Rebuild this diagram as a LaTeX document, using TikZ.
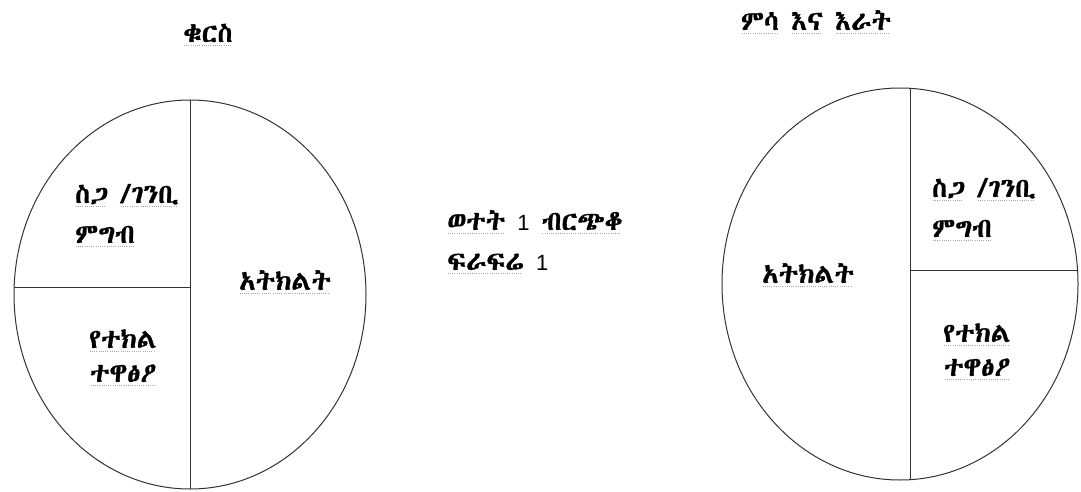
\documentclass[tikz,border=0pt]{standalone}
\usepackage{fontspec}
\newfontfamily\eth[FakeBold=1]{Abyssinica SIL}
\newfontfamily\digitfont{Liberation Sans}
\newcommand\sq[1]{\setbox0\hbox{#1}\rlap{\raisebox{-4pt}{\color{gray!70}\hbox to \wd0{\leaders\hbox to 2.2pt{\hss\vrule width 1pt height 1pt\hss}\hfill}}}\box0\relax}
\newcommand\one{{\digitfont\fontsize{22}{40}\selectfont 1}}
\begin{document}
\begin{tikzpicture}[x=1pt,y=-1pt,
  lbl/.style={font=\eth\fontsize{27}{40}\selectfont, inner sep=0pt},
  tight/.style={font=\eth\fontsize{27}{34}\selectfont},
  edge/.style={draw=black!80, line width=1pt}]
\useasboundingbox (0,0) rectangle (1081,492);
% left pie
\coordinate (LC) at (190,294.5);
\draw[edge] (LC) ellipse [x radius=176pt, y radius=194.5pt];
\begin{scope}
\clip (LC) ellipse [x radius=176pt, y radius=194.5pt];
\draw[edge] (190,0) -- (190,492);
\draw[edge] (0,287) -- (190,287);
\end{scope}
% right pie
\coordinate (RC) at (900,284);
\draw[edge] (RC) ellipse [x radius=178pt, y radius=196pt];
\begin{scope}
\clip (RC) ellipse [x radius=178pt, y radius=196pt];
\draw[edge] (910,0) -- (910,492);
\draw[edge] (910,270) -- (1081,270);
\end{scope}
% titles
\node[lbl, anchor=base] (t1) at (208,42) {\sq{ቁርስ}};
\node[lbl, anchor=base] (t2) at (816,30) {\sq{ምሳ} \sq{እና} \sq{እራት}};
% left labels (base = baseline of last line)
\node[lbl, anchor=base west, align=left] (l1) at (75,243) {\sq{ስጋ} \sq{/ገንቢ}\\ \sq{ምግብ}};
\node[lbl, anchor=base] (l2) at (285,290) {\sq{አትክልት}};
\node[lbl, tight, anchor=base, align=center] (l3) at (123,382) {\sq{የተክል}\\ \sq{ተዋፅዖ}};
% middle
\node[lbl, anchor=base west, align=left] (m) at (447,270) {\sq{ወተት} \one{} \sq{ብርጭቆ}\\ \sq{ፍራፍሬ} \one};
% right labels
\node[lbl, anchor=base] (r1) at (808,283) {\sq{አትክልት}};
\node[lbl, anchor=base west, align=left] (r2) at (932,237) {\sq{ስጋ} \sq{/ገንቢ}\\ \sq{ምግብ}};
\node[lbl, tight, anchor=base, align=center] (r3) at (977,376) {\sq{የተክል}\\ \sq{ተዋፅዖ}};
\end{tikzpicture}
\end{document}
